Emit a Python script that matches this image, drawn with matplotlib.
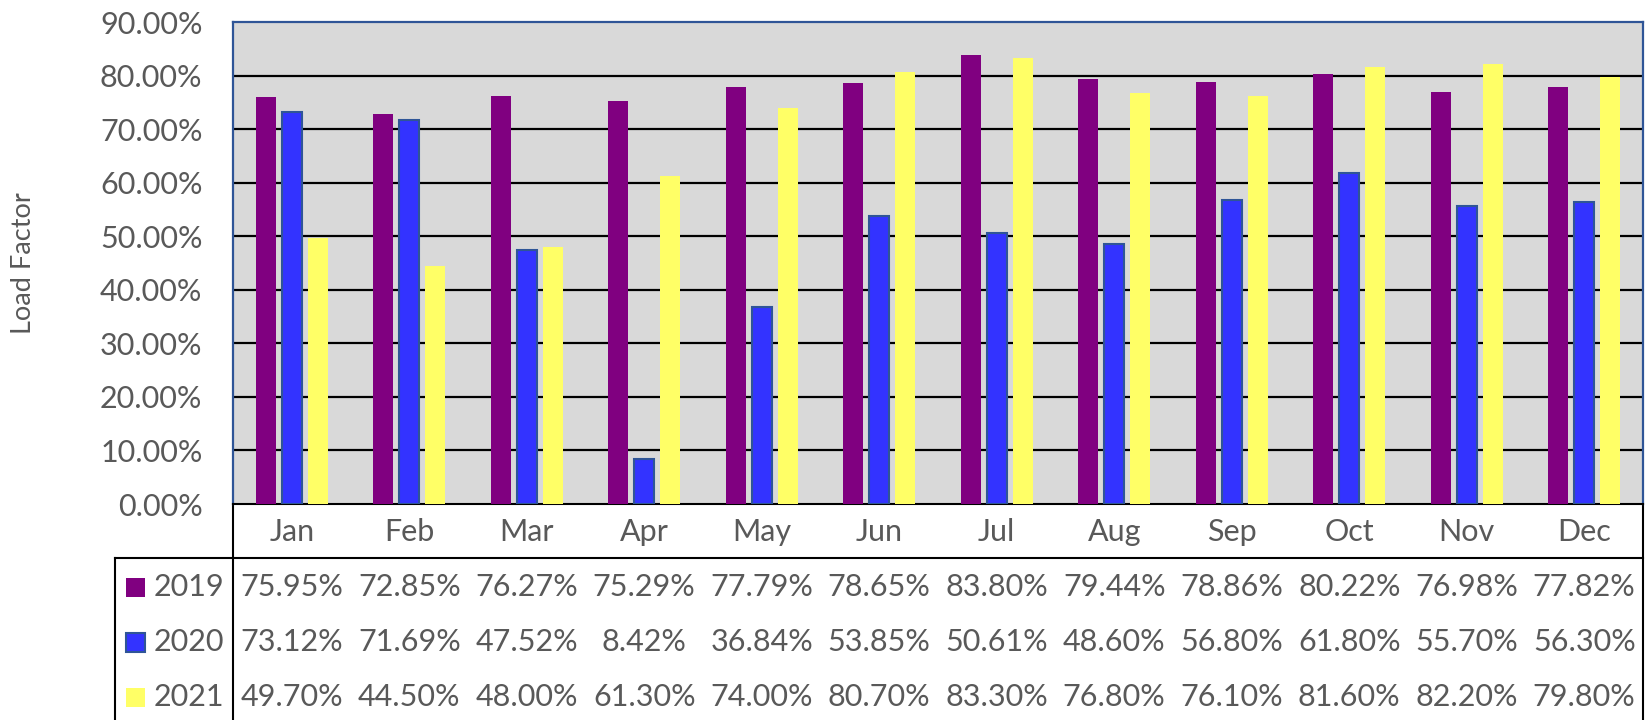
import matplotlib
matplotlib.use("Agg")
import matplotlib.pyplot as plt
from matplotlib.ticker import PercentFormatter
from matplotlib.transforms import blended_transform_factory
from matplotlib.patches import Rectangle
import numpy as np

months = ["Jan", "Feb", "Mar", "Apr", "May", "Jun", "Jul", "Aug", "Sep", "Oct", "Nov", "Dec"]
series_names = ["2019", "2020", "2021"]
lf_2019 = [75.95, 72.85, 76.27, 75.29, 77.79, 78.65, 83.80, 79.44, 78.86, 80.22, 76.98, 77.82]
lf_2020 = [73.12, 71.69, 47.52, 8.42, 36.84, 53.85, 50.61, 48.60, 56.80, 61.80, 55.70, 56.30]
lf_2021 = [49.70, 44.50, 48.00, 61.30, 74.00, 80.70, 83.30, 76.80, 76.10, 81.60, 82.20, 79.80]
y_ticks = [0, 10, 20, 30, 40, 50, 60, 70, 80, 90]

series = [lf_2019, lf_2020, lf_2021]
colors = ["#800080", "#3333FF", "#FFFF66"]
edges = ["#800080", "#2F5597", "#FFFF66"]
edge_w = [0, 1.5, 0]

plt.rcParams['font.family'] = ['Lato', 'DejaVu Sans']
txt_color = "#595959"
FS = 22

W, H = 1646, 720
fig = plt.figure(figsize=(W / 100, H / 100), dpi=100)
ax_left, ax_right, ax_top, ax_bot = 233, 1643, 22, 504
ax = fig.add_axes([ax_left / W, (H - ax_bot) / H, (ax_right - ax_left) / W, (ax_bot - ax_top) / H])
ax.set_facecolor("#D9D9D9")

x = np.arange(len(months))
offsets = [-0.22, 0.0, 0.22]
for i, vals in enumerate(series):
    ax.bar(x + offsets[i], np.array(vals) / 100.0, width=0.17, color=colors[i],
           edgecolor=edges[i], linewidth=edge_w[i], zorder=3)

ax.set_xlim(-0.5, 11.5)
ax.set_ylim(0, 0.9)
ax.set_yticks(np.array(y_ticks) / 100.0)
ax.yaxis.set_major_formatter(PercentFormatter(1.0, decimals=2))
ax.tick_params(axis='y', length=0, pad=22, labelsize=FS, labelcolor=txt_color)
ax.set_xticks([])
for yv in y_ticks[1:-1]:
    ax.axhline(yv / 100.0, color="black", lw=1.6, zorder=1)

for s in ["top", "left", "right"]:
    ax.spines[s].set_color("#2F5597")
    ax.spines[s].set_linewidth(1.6)
ax.spines["bottom"].set_color("black")
ax.spines["bottom"].set_linewidth(1.5)

# data table below the axes
axh = ax_bot - ax_top
colw = (ax_right - ax_left) / 12.0
def ypos(py):
    return (ax_bot - py) / axh
def xpos(px):
    return -0.5 + (px - ax_left) / colw

tr = blended_transform_factory(ax.transData, ax.transAxes)
line_kw = dict(color="black", lw=1.5, transform=tr, clip_on=False)
bottom = ypos(740)
ax.plot([xpos(ax_left), xpos(ax_left)], [0, bottom], **line_kw)
ax.plot([11.5, 11.5], [0, bottom], **line_kw)
ax.plot([xpos(115), 11.5], [ypos(558), ypos(558)], **line_kw)
ax.plot([xpos(115), xpos(115)], [ypos(558), bottom], **line_kw)

for j, m in enumerate(months):
    ax.text(j, ypos(532), m, ha="center", va="center", fontsize=FS,
            color=txt_color, transform=tr, clip_on=False)

row_y = [587, 642, 697]
for i, vals in enumerate(series):
    yy = ypos(row_y[i])
    for j, v in enumerate(vals):
        ax.text(j, yy, f"{v:.2f}%", ha="center", va="center", fontsize=FS,
                color=txt_color, transform=tr, clip_on=False)
    sq = 19
    ax.add_patch(Rectangle((xpos(126), ypos(row_y[i] + sq / 2)), xpos(126 + sq) - xpos(126),
                           sq / axh, facecolor=colors[i], edgecolor=edges[i],
                           linewidth=edge_w[i], transform=tr, clip_on=False))
    ax.text(xpos(224), yy, series_names[i], ha="right", va="center", fontsize=FS,
            color=txt_color, transform=tr, clip_on=False)

fig.text(24 / W, (H - 263) / H, "Load Factor", rotation=90, ha="center", va="center",
         fontsize=19.5, color=txt_color)

fig.savefig("out.png", dpi=100)
